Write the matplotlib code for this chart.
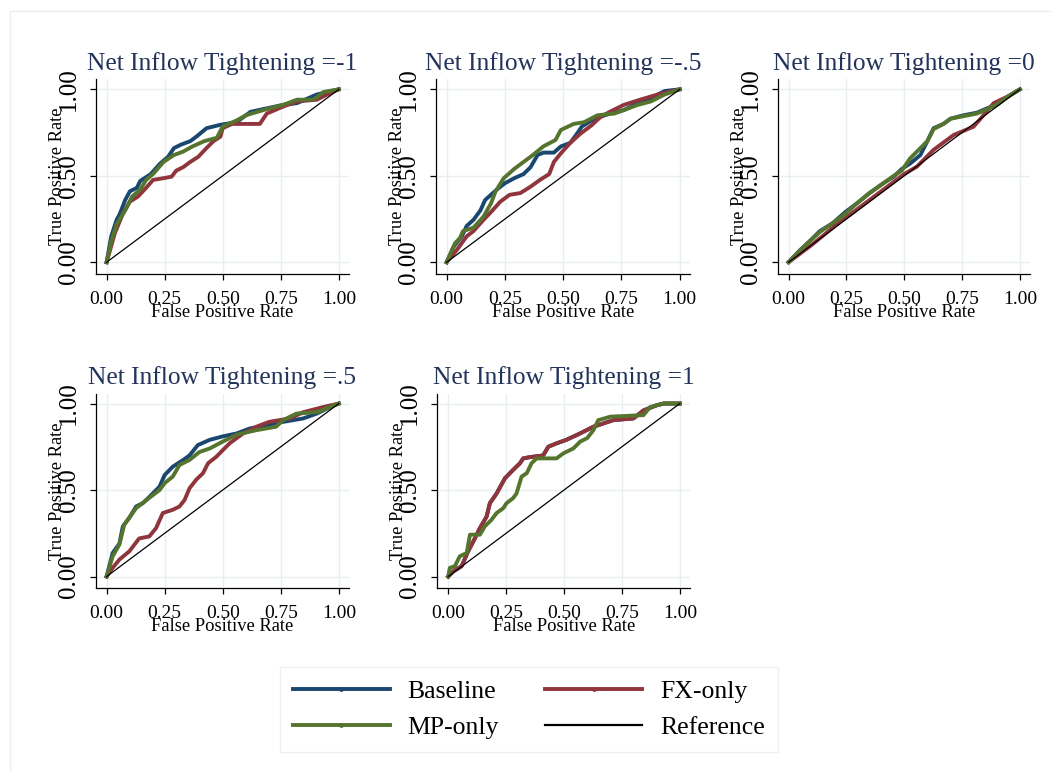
import numpy as np
import matplotlib
matplotlib.use("Agg")
import matplotlib.pyplot as plt
from matplotlib.lines import Line2D

plt.rcParams["font.family"] = ["Liberation Serif", "DejaVu Serif"]

# ---- data (FPR, TPR) ----
panel_titles = ["Net Inflow Tightening =-1", "Net Inflow Tightening =-.5",
                "Net Inflow Tightening =0", "Net Inflow Tightening =.5",
                "Net Inflow Tightening =1"]

baseline_fpr = [
    [0, 0.02, 0.043, 0.057, 0.08, 0.10, 0.13, 0.145, 0.19, 0.23, 0.265, 0.29, 0.32, 0.36, 0.39, 0.43, 0.49, 0.56, 0.62, 0.69, 0.76, 0.82, 0.905, 1],
    [0, 0.03, 0.065, 0.086, 0.115, 0.145, 0.165, 0.19, 0.215, 0.25, 0.29, 0.33, 0.36, 0.39, 0.415, 0.46, 0.49, 0.53, 0.56, 0.58, 0.63, 0.70, 0.76, 0.82, 0.876, 0.935, 1],
    [0, 0.05, 0.09, 0.135, 0.19, 0.245, 0.295, 0.35, 0.41, 0.455, 0.49, 0.525, 0.57, 0.6, 0.627, 0.67, 0.70, 0.757, 0.815, 0.858, 0.90, 0.945, 1],
    [0, 0.026, 0.055, 0.07, 0.098, 0.127, 0.156, 0.184, 0.228, 0.25, 0.285, 0.33, 0.357, 0.393, 0.444, 0.50, 0.56, 0.617, 0.69, 0.76, 0.847, 0.905, 0.963, 1],
    [0, 0.022, 0.058, 0.086, 0.115, 0.137, 0.166, 0.18, 0.209, 0.245, 0.28, 0.31, 0.324, 0.353, 0.41, 0.432, 0.468, 0.51, 0.555, 0.584, 0.627, 0.67, 0.713, 0.80, 0.843, 0.90, 0.93, 1],
]
baseline_tpr = [
    [0, 0.15, 0.245, 0.28, 0.36, 0.41, 0.43, 0.47, 0.51, 0.57, 0.61, 0.66, 0.68, 0.70, 0.73, 0.775, 0.795, 0.81, 0.87, 0.89, 0.91, 0.92, 0.97, 1],
    [0, 0.09, 0.15, 0.21, 0.245, 0.30, 0.36, 0.39, 0.42, 0.457, 0.486, 0.51, 0.55, 0.62, 0.634, 0.634, 0.67, 0.69, 0.745, 0.785, 0.827, 0.86, 0.88, 0.92, 0.95, 0.99, 1],
    [0, 0.07, 0.12, 0.18, 0.225, 0.29, 0.34, 0.40, 0.457, 0.495, 0.54, 0.57, 0.62, 0.70, 0.775, 0.80, 0.83, 0.85, 0.865, 0.89, 0.91, 0.955, 1],
    [0, 0.136, 0.19, 0.29, 0.34, 0.405, 0.424, 0.46, 0.52, 0.587, 0.635, 0.674, 0.70, 0.76, 0.79, 0.81, 0.827, 0.856, 0.875, 0.894, 0.914, 0.942, 0.98, 1],
    [0, 0.03, 0.06, 0.146, 0.22, 0.28, 0.347, 0.424, 0.48, 0.568, 0.616, 0.655, 0.683, 0.69, 0.70, 0.75, 0.77, 0.79, 0.818, 0.837, 0.866, 0.885, 0.904, 0.914, 0.96, 0.99, 1, 1],
]

fx_fpr = [
    [0, 0.036, 0.07, 0.10, 0.135, 0.17, 0.2, 0.245, 0.28, 0.30, 0.33, 0.36, 0.395, 0.43, 0.46, 0.49, 0.5, 0.54, 0.6, 0.66, 0.69, 0.76, 0.82, 0.905, 0.95, 1],
    [0, 0.043, 0.086, 0.115, 0.158, 0.19, 0.23, 0.27, 0.316, 0.36, 0.40, 0.44, 0.46, 0.49, 0.53, 0.575, 0.62, 0.66, 0.70, 0.76, 0.83, 0.905, 1],
    [0, 0.1, 0.2, 0.3, 0.4, 0.5, 0.555, 0.627, 0.714, 0.80, 0.83, 0.887, 0.95, 1],
    [0, 0.026, 0.055, 0.098, 0.14, 0.184, 0.213, 0.242, 0.285, 0.314, 0.336, 0.357, 0.386, 0.415, 0.437, 0.473, 0.50, 0.53, 0.56, 0.588, 0.645, 0.70, 0.79, 0.847, 0.934, 1],
    [0, 0.022, 0.058, 0.086, 0.115, 0.137, 0.166, 0.18, 0.209, 0.245, 0.28, 0.31, 0.324, 0.353, 0.41, 0.432, 0.468, 0.51, 0.555, 0.584, 0.627, 0.67, 0.713, 0.80, 0.843, 0.90, 0.93, 1],
]
fx_tpr = [
    [0, 0.17, 0.28, 0.35, 0.38, 0.43, 0.476, 0.486, 0.495, 0.53, 0.55, 0.58, 0.61, 0.66, 0.70, 0.726, 0.775, 0.80, 0.80, 0.80, 0.86, 0.90, 0.93, 0.94, 0.97, 1],
    [0, 0.07, 0.15, 0.18, 0.245, 0.29, 0.35, 0.39, 0.40, 0.437, 0.476, 0.51, 0.58, 0.63, 0.69, 0.745, 0.79, 0.84, 0.87, 0.91, 0.94, 0.97, 1],
    [0, 0.10, 0.21, 0.31, 0.41, 0.51, 0.553, 0.65, 0.736, 0.784, 0.83, 0.92, 0.96, 1],
    [0, 0.05, 0.098, 0.146, 0.22, 0.232, 0.28, 0.367, 0.386, 0.405, 0.443, 0.51, 0.56, 0.597, 0.655, 0.693, 0.73, 0.77, 0.80, 0.827, 0.866, 0.894, 0.914, 0.95, 0.98, 1],
    [0, 0.03, 0.06, 0.146, 0.22, 0.28, 0.347, 0.424, 0.48, 0.568, 0.616, 0.655, 0.683, 0.69, 0.70, 0.75, 0.77, 0.79, 0.818, 0.837, 0.866, 0.885, 0.904, 0.914, 0.96, 0.99, 1, 1],
]

mp_fpr = [
    [0, 0.02, 0.043, 0.08, 0.11, 0.145, 0.17, 0.2, 0.245, 0.29, 0.33, 0.37, 0.42, 0.475, 0.5, 0.56, 0.6, 0.675, 0.76, 0.82, 0.89, 0.935, 1],
    [0, 0.036, 0.057, 0.07, 0.115, 0.158, 0.19, 0.21, 0.245, 0.29, 0.33, 0.37, 0.415, 0.467, 0.49, 0.545, 0.59, 0.647, 0.72, 0.76, 0.82, 0.876, 0.935, 1],
    [0, 0.05, 0.09, 0.135, 0.19, 0.245, 0.295, 0.35, 0.41, 0.455, 0.49, 0.525, 0.555, 0.6, 0.627, 0.67, 0.70, 0.757, 0.815, 0.858, 0.90, 0.945, 1],
    [0, 0.026, 0.055, 0.076, 0.127, 0.184, 0.228, 0.25, 0.285, 0.314, 0.357, 0.40, 0.444, 0.50, 0.56, 0.645, 0.73, 0.76, 0.818, 0.905, 0.963, 1],
    [0, 0.007, 0.029, 0.05, 0.08, 0.094, 0.137, 0.158, 0.187, 0.209, 0.238, 0.252, 0.28, 0.295, 0.317, 0.339, 0.36, 0.382, 0.468, 0.497, 0.54, 0.57, 0.60, 0.627, 0.648, 0.70, 0.843, 0.872, 0.93, 1],
]
mp_tpr = [
    [0, 0.12, 0.22, 0.30, 0.38, 0.42, 0.476, 0.51, 0.58, 0.62, 0.64, 0.67, 0.70, 0.72, 0.785, 0.82, 0.85, 0.88, 0.91, 0.94, 0.94, 0.985, 1],
    [0, 0.11, 0.14, 0.18, 0.20, 0.264, 0.34, 0.41, 0.486, 0.54, 0.58, 0.62, 0.67, 0.707, 0.765, 0.80, 0.81, 0.85, 0.86, 0.88, 0.91, 0.93, 0.97, 1],
    [0, 0.07, 0.12, 0.175, 0.225, 0.28, 0.34, 0.40, 0.457, 0.50, 0.53, 0.60, 0.64, 0.70, 0.77, 0.80, 0.83, 0.845, 0.86, 0.885, 0.91, 0.955, 1],
    [0, 0.117, 0.185, 0.30, 0.395, 0.455, 0.50, 0.54, 0.578, 0.645, 0.674, 0.72, 0.74, 0.78, 0.82, 0.846, 0.866, 0.904, 0.942, 0.95, 0.98, 1],
    [0, 0.05, 0.06, 0.117, 0.136, 0.242, 0.242, 0.29, 0.328, 0.367, 0.395, 0.424, 0.453, 0.48, 0.578, 0.597, 0.655, 0.683, 0.683, 0.712, 0.74, 0.78, 0.80, 0.846, 0.904, 0.924, 0.933, 0.98, 1, 1],
]

ref_line = [0, 1]
xticks = [0, 0.25, 0.5, 0.75, 1]
yticks = [0, 0.5, 1]
tick_labels_x = ["0.00", "0.25", "0.50", "0.75", "1.00"]
tick_labels_y = ["0.00", "0.50", "1.00"]
series_names = ["Baseline", "FX-only", "MP-only", "Reference"]

NAVY = "#1a476f"; MAROON = "#90353b"; GREEN = "#55752f"
TITLE_C = "#23345b"; GRID_C = "#e8eff1"
LW = 2.8

W, H = 1052, 772
fig = plt.figure(figsize=(W / 100, H / 100), dpi=100)

# axes boxes in pixels: (left, top, right, bottom)
boxes = [(95.7, 79.3, 349, 274), (435.7, 79.3, 690, 274), (777.7, 79.3, 1030, 274),
         (95.7, 393.5, 349, 588.3), (437.3, 393.5, 690, 588.3)]

for i, (l, t, r, b) in enumerate(boxes):
    ax = fig.add_axes([l / W, 1 - b / H, (r - l) / W, (b - t) / H])
    ax.set_xlim(-0.047, 1.044)
    ax.set_ylim(-0.068, 1.058)
    for s in ["top", "right"]:
        ax.spines[s].set_visible(False)
    for s in ["left", "bottom"]:
        ax.spines[s].set_linewidth(0.9)
    ax.set_xticks(xticks)
    ax.set_xticklabels(tick_labels_x, fontsize=14)
    ax.set_yticks(yticks)
    ax.set_yticklabels(tick_labels_y, fontsize=18, rotation=90, va="center")
    ax.tick_params(axis="both", length=4.3, width=0.9, pad=7.9, colors="black")
    ax.tick_params(axis="y", pad=7.3)
    ax.grid(True, color=GRID_C, lw=1.0)
    ax.set_axisbelow(True)

    ax.plot(baseline_fpr[i], baseline_tpr[i], color=NAVY, lw=LW)
    ax.plot(fx_fpr[i], fx_tpr[i], color=MAROON, lw=LW)
    ax.plot(mp_fpr[i], mp_tpr[i], color=GREEN, lw=LW)
    ax.plot(ref_line, ref_line, color="black", lw=0.9)

    ax.set_title(panel_titles[i], fontsize=18.4, color=TITLE_C, pad=6.5)
    ax.text(0.5, -(317 - 274) / (b - t), "False Positive Rate", transform=ax.transAxes,
            ha="center", va="baseline", fontsize=13.3)
    ax.text(-38.7 / (r - l), 0.5, "True Positive Rate", transform=ax.transAxes,
            rotation=90, ha="center", va="center", fontsize=13.3)

# legend
handles = [Line2D([], [], color=NAVY, lw=LW, marker="o", ms=2.5),
           Line2D([], [], color=GREEN, lw=LW, marker="o", ms=2.5),
           Line2D([], [], color=MAROON, lw=LW, marker="o", ms=2.5),
           Line2D([], [], color="black", lw=1.6)]
labels = [series_names[0], series_names[2], series_names[1], series_names[3]]
leg = fig.legend(handles, labels, loc="upper left", bbox_to_anchor=(280 / W, 1 - 667 / H),
                 ncol=2, fontsize=18.5, frameon=True, fancybox=False, edgecolor=GRID_C,
                 handlelength=3.77, handletextpad=0.7, columnspacing=1.8,
                 borderpad=0.5, labelspacing=0.52, borderaxespad=0)
leg.get_frame().set_linewidth(1.0)

# outer graph-region frame (top and left edges visible)
fig.add_artist(Line2D([10 / W, 1], [1 - 11 / H, 1 - 11 / H], color=GRID_C, lw=1.0))
fig.add_artist(Line2D([10 / W, 10 / W], [1 - 11 / H, 0], color=GRID_C, lw=1.0))

fig.savefig("out.png", dpi=100)
